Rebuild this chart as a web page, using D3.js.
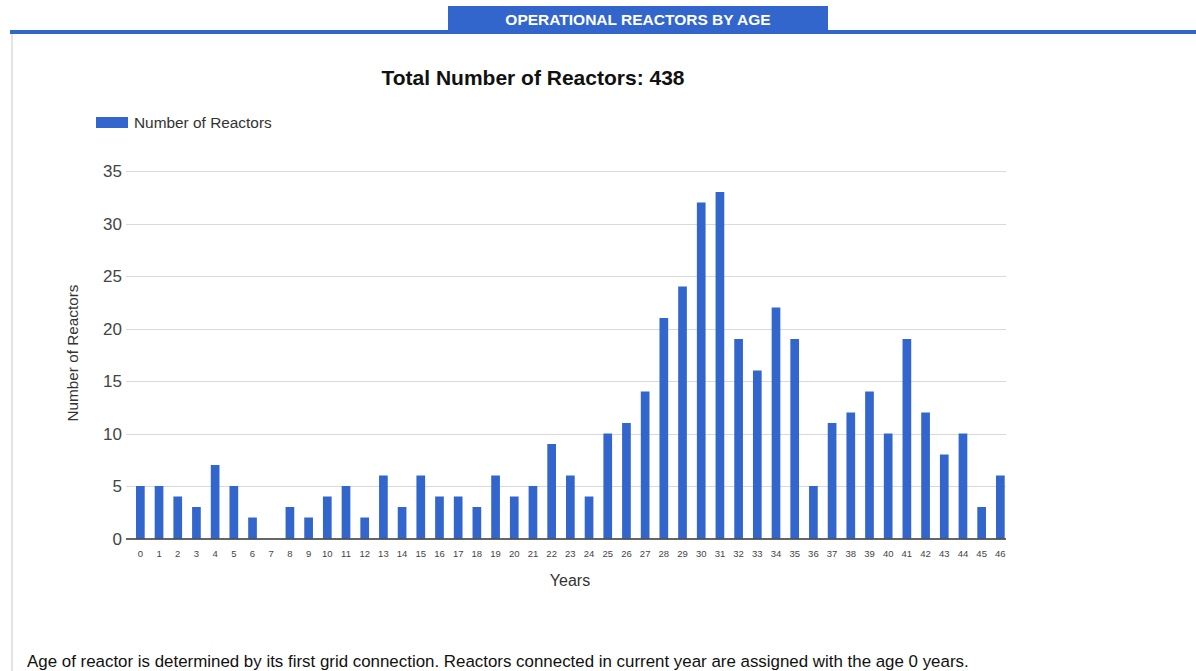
<!DOCTYPE html>
<html>
<head>
<meta charset="utf-8">
<script src="https://cdn.jsdelivr.net/npm/d3@7"></script>
<style>
  html, body { margin: 0; padding: 0; background: #fff; }
  svg { display: block; font-family: "Liberation Sans", Arial, sans-serif; }
</style>
</head>
<body>
<svg id="chart" width="1196" height="671"></svg>
<script>
// Reactor ages in years (0..46) and number of operational reactors at each age
const ages = d3.range(0, 47).map(String);
const reactorCounts = [5, 5, 4, 3, 7, 5, 2, 0, 3, 2, 4, 5, 2, 6, 3, 6, 4, 4, 3, 6, 4, 5, 9, 6, 4,
  10, 11, 14, 21, 24, 32, 33, 19, 16, 22, 19, 5, 11, 12, 14, 10, 19, 12, 8, 10, 3, 6];
const yTicks = [0, 5, 10, 15, 20, 25, 30, 35];

const barColor = "#3366cc";
const svg = d3.select("#chart");

// Panel header tab and rule
svg.append("rect").attr("x", 448).attr("y", 6).attr("width", 380).attr("height", 24).attr("fill", barColor);
svg.append("text").attr("x", 638).attr("y", 24.5).attr("text-anchor", "middle")
  .attr("fill", "#fff").attr("font-size", 15.5).attr("font-weight", "bold")
  .text("OPERATIONAL REACTORS BY AGE");
svg.append("rect").attr("x", 10).attr("y", 30).attr("width", 1186).attr("height", 4).attr("fill", barColor);
svg.append("rect").attr("x", 11).attr("y", 34).attr("width", 2).attr("height", 637).attr("fill", "#e4e4e4");

// Scales
const x = d3.scaleBand().domain(ages).range([131, 1009.7]).paddingInner(0.535).paddingOuter(0.2675);
const y = d3.scaleLinear().domain([0, 35]).range([538.5, 171]);

// Gridlines
svg.append("g").selectAll("line").data(yTicks.filter(d => d > 0)).join("line")
  .attr("x1", 126).attr("x2", 1006)
  .attr("y1", d => Math.round(y(d)) + 0.5).attr("y2", d => Math.round(y(d)) + 0.5)
  .attr("stroke", "#d9d9d9").attr("stroke-width", 1);

// Y tick labels
svg.append("g").selectAll("text").data(yTicks).join("text")
  .attr("x", 122).attr("y", d => y(d) + 6)
  .attr("text-anchor", "end").attr("font-size", 17).attr("fill", "#444")
  .text(d => d);

// Bars
svg.append("g").selectAll("rect").data(reactorCounts).join("rect")
  .attr("x", (d, i) => x(ages[i]))
  .attr("width", x.bandwidth())
  .attr("y", d => y(d))
  .attr("height", d => y(0) - y(d))
  .attr("fill", barColor);

// Baseline
svg.append("line").attr("x1", 126).attr("x2", 1006).attr("y1", 539).attr("y2", 539)
  .attr("stroke", "#333").attr("stroke-width", 1.5);

// X tick labels
svg.append("g").selectAll("text").data(ages).join("text")
  .attr("x", d => x(d) + x.bandwidth() / 2).attr("y", 557)
  .attr("text-anchor", "middle").attr("font-size", 9.5).attr("fill", "#444")
  .text(d => d);

// Axis titles
svg.append("text").attr("x", 570).attr("y", 586).attr("text-anchor", "middle")
  .attr("font-size", 16).attr("fill", "#333").text("Years");
svg.append("text").attr("transform", "translate(78,353) rotate(-90)").attr("text-anchor", "middle")
  .attr("font-size", 15.3).attr("fill", "#333").text("Number of Reactors");

// Chart title
svg.append("text").attr("x", 533).attr("y", 85).attr("text-anchor", "middle")
  .attr("font-size", 21).attr("font-weight", "bold").attr("fill", "#111")
  .text("Total Number of Reactors: " + d3.sum(reactorCounts));

// Legend
svg.append("rect").attr("x", 96).attr("y", 117).attr("width", 32).attr("height", 11).attr("fill", barColor);
svg.append("text").attr("x", 134).attr("y", 128).attr("font-size", 15.4).attr("fill", "#333")
  .text("Number of Reactors");

// Footnote
svg.append("text").attr("x", 27).attr("y", 667).attr("font-size", 16.9).attr("fill", "#111")
  .text("Age of reactor is determined by its first grid connection. Reactors connected in current year are assigned with the age 0 years.");
</script>
</body>
</html>
